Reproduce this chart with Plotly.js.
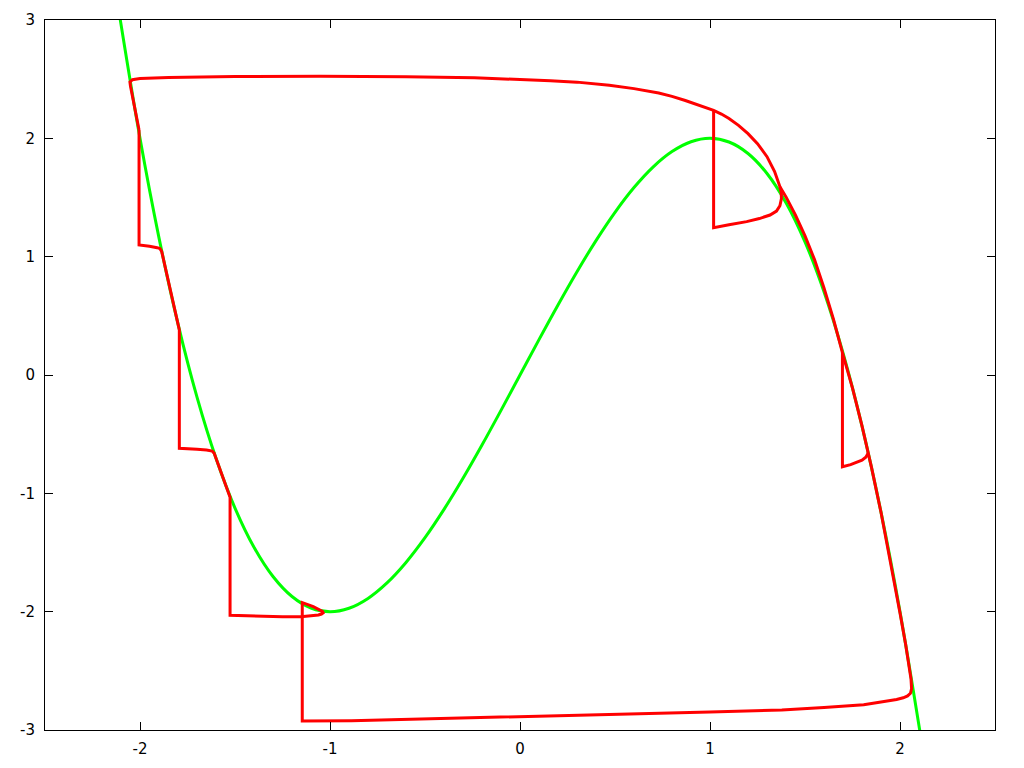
<!DOCTYPE html>
<html>
<head>
<meta charset="utf-8">
<script src="https://cdn.plot.ly/plotly-3.0.1.min.js"></script>
<style>
  body { margin: 0; background: #fff; }
  #plot { width: 1024px; height: 768px; }
</style>
</head>
<body>
<div id="plot"></div>
<script>
// green nullcline
var nullX = [-2.11, -2.0, -1.9, -1.8, -1.7, -1.6, -1.5, -1.4, -1.3, -1.2, -1.1, -1.0,
             -0.9, -0.8, -0.7, -0.6, -0.5, -0.4, -0.3, -0.2, -0.1, 0,
             0.1, 0.2, 0.3, 0.4, 0.5, 0.6, 0.7, 0.8, 0.9, 1.0,
             1.1, 1.2, 1.3, 1.4, 1.5, 1.6, 1.7, 1.8, 1.9, 2.0, 2.11];
var nullY = [3.064, 2.0, 1.159, 0.432, -0.187, -0.704, -1.125, -1.456, -1.703, -1.872, -1.969, -2.0,
             -1.971, -1.888, -1.757, -1.584, -1.375, -1.136, -0.873, -0.592, -0.299, 0,
             0.299, 0.592, 0.873, 1.136, 1.375, 1.584, 1.757, 1.888, 1.971, 2.0,
             1.969, 1.872, 1.703, 1.456, 1.125, 0.704, 0.187, -0.432, -1.159, -2.0, -3.064];

// red trajectory (one lap with kicks on the left branch)
var trajX = [-2.005, -2.03, -2.05, -2.053, -2.04, -2.0, -1.85, -1.5, -1.05, -0.6, -0.24,
             0.16, 0.3, 0.47, 0.6, 0.73, 0.8, 0.87, 0.94, 1.019, 1.06, 1.1, 1.15, 1.2, 1.25,
             1.3, 1.34, 1.368, 1.4, 1.45, 1.5, 1.55, 1.6, 1.65, 1.697, 1.75, 1.8, 1.85,
             1.9, 1.95, 2.0, 2.03, 2.05, 2.058, 2.061, 2.055, 2.04, 2.017, 1.982, 1.9,
             1.809, 1.6, 1.378, 1.0, 0.731, 0.3, -0.132, -0.5, -0.887, -1.146,
             -1.146, -1.088, -1.055, -1.04, -1.036, -1.045, -1.061, -1.1, -1.14, -1.25, -1.404, -1.526,
             -1.526, -1.57, -1.61, -1.62, -1.65, -1.7, -1.793,
             -1.793, -1.84, -1.886, -1.895, -1.91, -1.95, -2.005, -2.005];
var trajY = [2.07, 2.26, 2.44, 2.475, 2.495, 2.505, 2.515, 2.522, 2.525, 2.52, 2.512,
             2.487, 2.475, 2.448, 2.42, 2.383, 2.355, 2.32, 2.28, 2.236, 2.205, 2.168, 2.11, 2.04, 1.955,
             1.845, 1.72, 1.591, 1.505, 1.35, 1.175, 0.975, 0.735, 0.47, 0.19, -0.11, -0.43, -0.78,
             -1.16, -1.57, -2.01, -2.28, -2.48, -2.57, -2.65, -2.69, -2.712, -2.728, -2.742, -2.765,
             -2.786, -2.81, -2.831, -2.848, -2.859, -2.876, -2.893, -2.907, -2.921, -2.924,
             -1.924, -1.958, -1.982, -1.997, -2.009, -2.02, -2.028, -2.036, -2.041, -2.043, -2.038, -2.03,
             -1.034, -0.84, -0.66, -0.643, -0.634, -0.627, -0.62,
             0.38, 0.71, 1.045, 1.068, 1.076, 1.088, 1.099, 2.07];

// kicks on the right branch (second lap)
var kick1X = [1.019, 1.019, 1.1, 1.193, 1.26, 1.316, 1.35, 1.368, 1.376, 1.375, 1.368];
var kick1Y = [2.236, 1.245, 1.27, 1.296, 1.322, 1.352, 1.385, 1.43, 1.49, 1.54, 1.591];
var kick2X = [1.697, 1.697, 1.74, 1.772, 1.80, 1.82, 1.833];
var kick2Y = [0.19, -0.775, -0.757, -0.74, -0.72, -0.695, -0.66];

var tickX = [-2, -1, 0, 1, 2];
var tickXText = ['-2', '-1', '0', '1', '2'];
var tickY = [-3, -2, -1, 0, 1, 2, 3];
var tickYText = ['-3', '-2', '-1', '0', '1', '2', '3'];

var green = '#00ff00';
var red = '#ff0000';

var data = [
    { x: nullX, y: nullY, type: 'scatter', mode: 'lines',
      line: { color: green, width: 3, shape: 'spline', smoothing: 1 } },
    { x: trajX, y: trajY, type: 'scatter', mode: 'lines',
      line: { color: red, width: 3 } },
    { x: kick1X, y: kick1Y, type: 'scatter', mode: 'lines',
      line: { color: red, width: 3 } },
    { x: kick2X, y: kick2Y, type: 'scatter', mode: 'lines',
      line: { color: red, width: 3 } }
];

var axisCommon = {
    showgrid: false,
    zeroline: false,
    showline: true,
    linecolor: '#000',
    linewidth: 1,
    mirror: 'allticks',
    ticks: 'inside',
    ticklen: 8,
    tickcolor: '#000',
    tickwidth: 1,
    tickmode: 'array',
    tickfont: { family: 'DejaVu Sans', size: 15, color: '#000' }
};

var layout = {
    width: 1024,
    height: 768,
    margin: { l: 45, r: 29, t: 20, b: 38 },
    paper_bgcolor: '#fff',
    plot_bgcolor: '#fff',
    showlegend: false,
    xaxis: Object.assign({}, axisCommon, {
        range: [-2.5, 2.5], tickvals: tickX, ticktext: tickXText, ticklabelstandoff: 5
    }),
    yaxis: Object.assign({}, axisCommon, {
        range: [-3, 3], tickvals: tickY, ticktext: tickYText, ticklabelstandoff: 6
    })
};

Plotly.newPlot('plot', data, layout, { staticPlot: true });
</script>
</body>
</html>
